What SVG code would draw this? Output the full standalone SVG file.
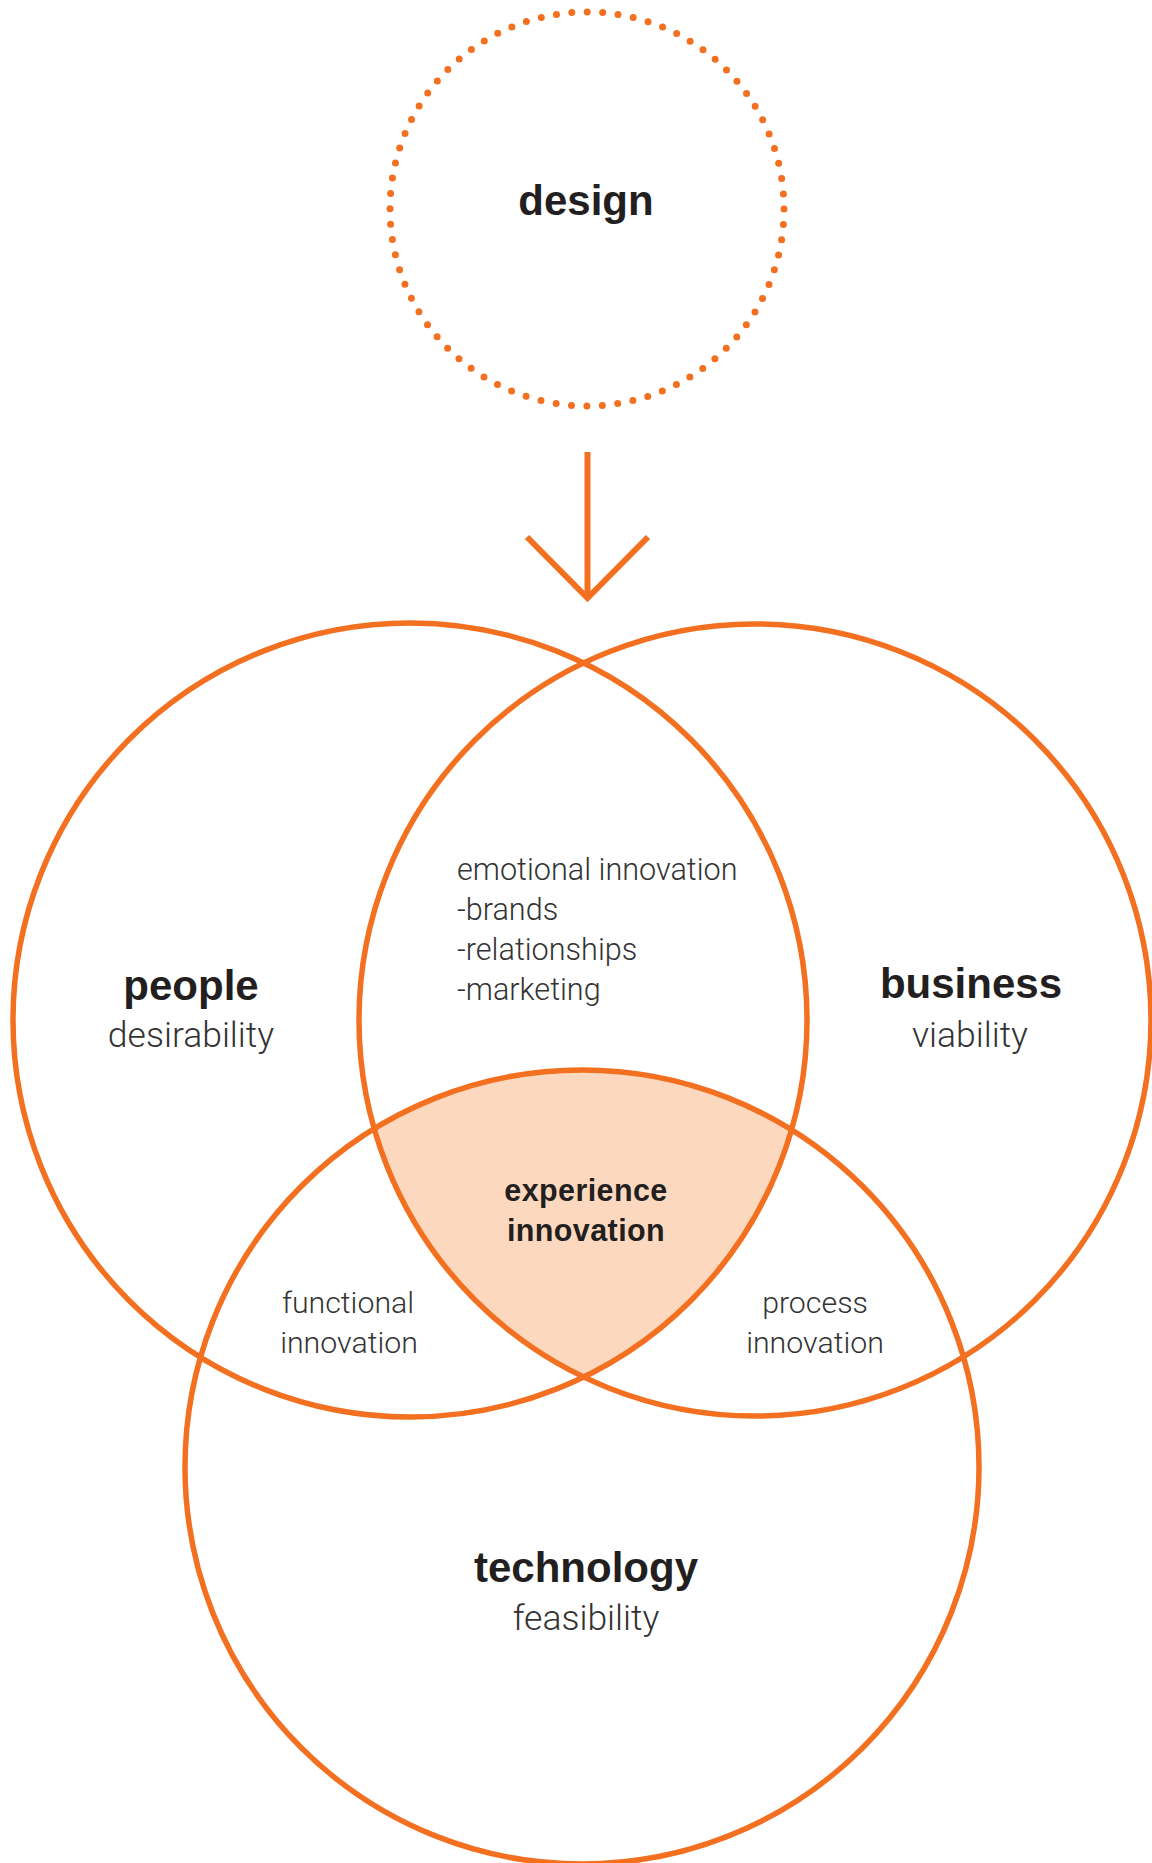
<svg xmlns="http://www.w3.org/2000/svg" width="1152" height="1863" viewBox="0 0 1152 1863">
  <style>
    .ring { fill: none; stroke: #F37021; stroke-width: 5.5; }
    .dots { fill: none; stroke: #F37021; stroke-width: 7; stroke-linecap: round; stroke-dasharray: 0 15.47; }
    .arrow { fill: none; stroke: #F37021; stroke-width: 6; }
    .bold { font-family: "Liberation Sans", Arial, sans-serif; font-weight: bold; fill: #231F20; text-anchor: middle; }
    .light { font-family: Roboto, "Liberation Sans", Arial, sans-serif; font-weight: 300; fill: #333333; }
    .mid { text-anchor: middle; }
  </style>
  <defs>
    <clipPath id="clip-business"><circle cx="755" cy="1020" r="396"/></clipPath>
    <clipPath id="clip-technology"><circle cx="582" cy="1467" r="397"/></clipPath>
  </defs>
  <rect width="1152" height="1863" fill="#FFFFFF"/>

  <!-- shared area of all three circles -->
  <g id="experience-area" clip-path="url(#clip-technology)">
    <circle cx="410" cy="1020" r="397" fill="#FCD9BE" clip-path="url(#clip-business)"/>
  </g>

  <g id="design">
    <circle class="dots" cx="587" cy="209" r="197"/>
    <text class="bold" x="586" y="215" font-size="42">design</text>
  </g>

  <g id="connectors">
    <line class="arrow" x1="587.5" y1="452" x2="587.5" y2="598"/>
    <polyline class="arrow" points="527,537 587.5,598 648,537"/>
  </g>

  <g id="people">
    <circle class="ring" cx="410" cy="1020" r="397"/>
    <text class="bold" x="191" y="1000" font-size="42">people</text>
    <text class="light mid" x="191" y="1047" font-size="35.5">desirability</text>
  </g>

  <g id="business">
    <circle class="ring" cx="755" cy="1020" r="396"/>
    <text class="bold" x="971" y="998" font-size="42">business</text>
    <text class="light mid" x="970" y="1047" font-size="35.5">viability</text>
  </g>

  <g id="technology">
    <circle class="ring" cx="582" cy="1467" r="397"/>
    <text class="bold" x="586" y="1582" font-size="42">technology</text>
    <text class="light mid" x="586" y="1630" font-size="35.5">feasibility</text>
  </g>

  <g id="emotional-innovation">
    <text class="light" x="457" y="880" font-size="30.6">emotional innovation</text>
    <text class="light" x="457" y="920" font-size="30.6">-brands</text>
    <text class="light" x="457" y="960" font-size="30.6">-relationships</text>
    <text class="light" x="457" y="1000" font-size="30.6">-marketing</text>
  </g>

  <g id="experience-innovation">
    <text class="bold" x="586" y="1201" font-size="30.5" letter-spacing="0.4">experience</text>
    <text class="bold" x="586" y="1241" font-size="30.5" letter-spacing="0.4">innovation</text>
  </g>

  <g id="functional-innovation">
    <text class="light mid" x="348" y="1313" font-size="30.3">functional</text>
    <text class="light mid" x="349" y="1353" font-size="30.3">innovation</text>
  </g>

  <g id="process-innovation">
    <text class="light mid" x="815" y="1313" font-size="30.3">process</text>
    <text class="light mid" x="815" y="1353" font-size="30.3">innovation</text>
  </g>
</svg>
